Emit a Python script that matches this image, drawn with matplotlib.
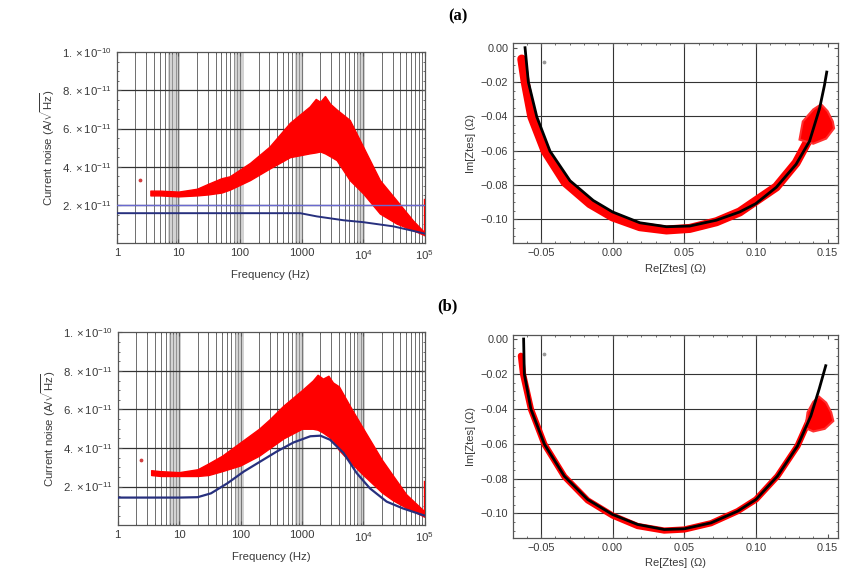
import numpy as np
import matplotlib
matplotlib.use("Agg")
import matplotlib.pyplot as plt
from matplotlib.ticker import MultipleLocator, NullFormatter, LogLocator

plt.rcParams['font.family'] = ['Liberation Sans', 'DejaVu Sans']
plt.rcParams['mathtext.fontset'] = 'custom'
plt.rcParams['mathtext.rm'] = 'Liberation Sans'
plt.rcParams['mathtext.it'] = 'Liberation Sans:italic'

# ---------------- data: noise spectra (units of 1e-11 A/sqrt(Hz)) ----------------
freq_env_a = [3.5, 5, 10, 20, 30, 50, 68, 145, 300, 645, 1350, 1700, 2000, 2400, 2900,
              3700, 6050, 10000, 18700, 34700, 64000, 100000]
noise_a_upper = [2.75, 2.75, 2.7, 2.85, 3.1, 3.4, 3.5, 4.2, 5.05, 6.3, 7.15, 7.55, 7.4,
                 7.7, 7.3, 7.0, 6.45, 5.05, 3.3, 2.25, 1.2, 0.55]
noise_a_lower = [2.5, 2.5, 2.45, 2.5, 2.55, 2.65, 2.8, 3.3, 3.9, 4.5, 4.7, 4.75, 4.8,
                 4.7, 4.55, 4.35, 3.3, 2.6, 1.55, 1.03, 0.68, 0.42]
freq_env_b = [3.5, 5, 10, 20, 30, 50, 100, 200, 300, 500, 1000, 1500, 1800, 2200, 2700,
              3200, 4000, 6000, 10000, 20000, 30000, 50000, 100000]
noise_b_upper = [2.85, 2.8, 2.75, 2.9, 3.2, 3.6, 4.3, 5.0, 5.5, 6.2, 7.0, 7.5, 7.8, 7.6,
                 7.75, 7.4, 7.2, 6.2, 5.0, 3.4, 2.6, 1.6, 0.7]
noise_b_lower = [2.6, 2.55, 2.55, 2.55, 2.6, 2.8, 3.1, 3.6, 4.0, 4.5, 5.0, 5.0, 4.95,
                 4.8, 4.6, 4.4, 3.9, 3.3, 2.6, 1.7, 1.3, 0.9, 0.43]
outlier_f = [2.4]
outlier_a = [3.3]
outlier_b = [3.4]
edge_f = [98000, 98000]
edge_noise = [0.45, 2.3]

model_a_f = [1, 200, 950, 1780, 4800, 10000, 31000, 95000, 100000]
model_a_v = [1.57, 1.57, 1.57, 1.40, 1.20, 1.10, 0.88, 0.52, 0.50]
flat_a_f = [1, 100000]
flat_a_v = [2.0, 2.0]

model_b_f = [1, 10, 20, 33, 61, 113, 210, 390, 730, 1370, 2000, 2870, 4780, 7800,
             12800, 24000, 44000, 94000, 100000]
model_b_v = [1.43, 1.43, 1.45, 1.65, 2.17, 2.78, 3.3, 3.82, 4.29, 4.61, 4.64, 4.43,
             3.74, 2.70, 1.91, 1.22, 0.87, 0.52, 0.5]

# ---------------- data: impedance (Ohm) ----------------
fit_a_re = [-0.0611, -0.0588, -0.0529, -0.0437, -0.0297, -0.0135, 0.0, 0.019, 0.0376,
            0.0538, 0.0724, 0.0886, 0.0998, 0.1142, 0.128, 0.1374, 0.1444, 0.1478, 0.1494]
fit_a_im = [0.000, -0.020, -0.0403, -0.0603, -0.0776, -0.0891, -0.0958, -0.1021, -0.1044,
            -0.104, -0.1006, -0.0958, -0.091, -0.0814, -0.068, -0.0545, -0.0354, -0.0219, -0.0142]
meas_a_re = [-0.0634, -0.061, -0.0564, -0.0471, -0.0332, -0.0158, 0.0, 0.019, 0.0376,
             0.0538, 0.0724, 0.0886, 0.1142, 0.128, 0.1374, 0.142]
meas_a_im = [-0.0066, -0.020, -0.0403, -0.0603, -0.0785, -0.091, -0.0987, -0.1044, -0.1063,
             -0.1054, -0.1015, -0.0958, -0.0812, -0.0672, -0.0526, -0.043]
blob_a_re = [0.1455, 0.1500, 0.1536, 0.1545, 0.1490, 0.1400, 0.1304, 0.1327, 0.1400]
blob_a_im = [-0.0330, -0.0370, -0.0430, -0.0470, -0.0530, -0.0560, -0.0536, -0.0430, -0.0360]

fit_b_re = [-0.0621, -0.0616, -0.057, -0.0476, -0.0337, -0.0174, 0.0, 0.0174, 0.036, 0.05,
            0.0686, 0.0872, 0.10, 0.115, 0.129, 0.1383, 0.1441, 0.1487]
fit_b_im = [0.0, -0.0201, -0.0402, -0.0603, -0.0786, -0.092, -0.1006, -0.1063, -0.1092,
            -0.1088, -0.1054, -0.0987, -0.092, -0.0786, -0.0613, -0.0441, -0.0287, -0.0153]
meas_b_re = [-0.064, -0.0625, -0.057, -0.0476, -0.0337, -0.0174, 0.0, 0.0174, 0.036, 0.05,
             0.0686, 0.0872, 0.10, 0.115, 0.129, 0.1383]
meas_b_im = [-0.0096, -0.0201, -0.0402, -0.0603, -0.0788, -0.0925, -0.1012, -0.1072, -0.1098,
             -0.1092, -0.1056, -0.0987, -0.092, -0.0786, -0.0613, -0.0441]
blob_b_re = [0.1440, 0.1490, 0.1525, 0.1540, 0.1480, 0.1400, 0.1345, 0.1360, 0.1400]
blob_b_im = [-0.0330, -0.0365, -0.0420, -0.0470, -0.0515, -0.0530, -0.0510, -0.0420, -0.0360]
stray_re = [-0.048]
stray_im = [-0.0085]

noise_ticks = [2e-11, 4e-11, 6e-11, 8e-11, 1e-10]
noise_ticklabels = [r"$2.\times10^{-11}$", r"$4.\times10^{-11}$", r"$6.\times10^{-11}$",
                    r"$8.\times10^{-11}$", r"$1.\times10^{-10}$"]
freq_ticks = [1, 10, 100, 1000, 1e4, 1e5]
freq_ticklabels = ["1", "10", "100", "1000", r"$10^4$", r"$10^5$"]
re_ticks = [-0.05, 0.0, 0.05, 0.10, 0.15]
re_ticklabels = ["\u22120.05", "0.00", "0.05", "0.10", "0.15"]
im_ticks = [0.0, -0.02, -0.04, -0.06, -0.08, -0.10]
im_ticklabels = ["0.00", "\u22120.02", "\u22120.04", "\u22120.06", "\u22120.08", "\u22120.10"]

RED = "#ff0000"
NAVY = "#27307e"
TXT = "#3a3a3a"
FRAME = "#555555"

fig = plt.figure(figsize=(8.41, 5.79), dpi=100)

def style_frame(ax, size):
    for s in ax.spines.values():
        s.set_color(FRAME)
        s.set_linewidth(0.9)
    ax.tick_params(which='both', direction='in', top=True, right=True, colors=FRAME,
                   labelcolor=TXT, labelsize=size)
    ax.tick_params(which='major', length=3)
    ax.tick_params(which='minor', length=1.6)

def noise_panel(rect, fenv, upper, lower, outlier, models):
    ax = fig.add_axes(rect)
    ax.set_xscale('log')
    ax.set_xlim(1, 1e5)
    ax.set_ylim(0, 1e-10)
    minor = [m * 10 ** d for d in range(0, 5) for m in range(2, 10)]
    for x in minor:
        ax.axvline(x, color="#6e6e6e", lw=0.7, zorder=0)
    for x in freq_ticks[1:-1]:
        ax.axvline(x, color="#333333", lw=0.8, zorder=0)
    for lo, hi in [(6.8, 10.7), (80, 115), (780, 1070), (7800, 10600)]:
        ax.axvspan(lo, hi, color="#b0b0b0", alpha=0.55, lw=0, zorder=0)
    for y in noise_ticks[:-1]:
        ax.axhline(y, color="#333333", lw=0.9, zorder=0)
    f = np.array(fenv)
    ax.fill_between(f, np.array(lower) * 1e-11, np.array(upper) * 1e-11,
                    color=RED, lw=1.0, edgecolor=RED, zorder=2)
    ax.scatter(outlier_f, np.array(outlier) * 1e-11, s=3, color="#d04040", zorder=3)
    ax.plot(edge_f, np.array(edge_noise) * 1e-11, color=RED, lw=1.0, zorder=3)
    for fx, vy, col, lw in models:
        ax.plot(fx, np.array(vy) * 1e-11, color=col, lw=lw, zorder=4)
    ax.set_yticks(noise_ticks)
    ax.set_yticklabels(noise_ticklabels)
    ax.yaxis.set_minor_locator(MultipleLocator(0.5e-11))
    ax.set_xticks(freq_ticks)
    ax.set_xticklabels(freq_ticklabels)
    ax.xaxis.set_minor_locator(LogLocator(base=10, subs=np.arange(2, 10)))
    ax.xaxis.set_minor_formatter(NullFormatter())
    style_frame(ax, 8.2)
    ax.set_xlabel("Frequency (Hz)", fontsize=8.2, color=TXT, labelpad=6)
    ax.set_ylabel(r"Current noise (A/$\sqrt{\mathrm{Hz}}$)", fontsize=8.2, color=TXT, labelpad=4)
    return ax

def imp_panel(rect, fre, fim, mre, mim, bre, bim, bandw):
    ax = fig.add_axes(rect)
    ax.set_xlim(-0.0695, 0.157)
    ax.set_ylim(-0.114, 0.0025)
    for x in re_ticks[:-1]:
        ax.axvline(x, color="#333333", lw=0.8, zorder=0)
    for y in im_ticks[1:]:
        ax.axhline(y, color="#333333", lw=0.8, zorder=0)
    ax.plot(mre, mim, color=RED, lw=bandw, solid_capstyle='round', zorder=2)
    ax.fill(bre, bim, color=RED, lw=1.5, edgecolor="#ff3030", zorder=2)
    ax.scatter(stray_re, stray_im, s=3, color="#999999", zorder=2)
    ax.plot(fre, fim, color="black", lw=2.0, zorder=3)
    ax.set_xticks(re_ticks)
    ax.set_xticklabels(re_ticklabels)
    ax.set_yticks(im_ticks)
    ax.set_yticklabels(im_ticklabels)
    ax.xaxis.set_minor_locator(MultipleLocator(0.01))
    ax.yaxis.set_minor_locator(MultipleLocator(0.005))
    style_frame(ax, 7.8)
    ax.set_xlabel("Re[Ztes] (\u03a9)", fontsize=8, color=TXT, labelpad=4)
    ax.set_ylabel("Im[Ztes] (\u03a9)", fontsize=8, color=TXT, labelpad=3)
    return ax

noise_panel([0.139, 0.580, 0.366, 0.330], freq_env_a, noise_a_upper, noise_a_lower, outlier_a,
            [(flat_a_f, flat_a_v, "#6a6ad0", 1.0), (model_a_f, model_a_v, NAVY, 1.4)])
noise_panel([0.140, 0.093, 0.365, 0.333], freq_env_b, noise_b_upper, noise_b_lower, outlier_b,
            [(model_b_f, model_b_v, NAVY, 1.6)])
imp_panel([0.610, 0.580, 0.386, 0.345], fit_a_re, fit_a_im, meas_a_re, meas_a_im,
          blob_a_re, blob_a_im, 6.5)
imp_panel([0.610, 0.071, 0.386, 0.351], fit_b_re, fit_b_im, meas_b_re, meas_b_im,
          blob_b_re, blob_b_im, 4.5)

fig.text(0.545, 0.972, "(a)", fontsize=12, fontweight='bold', family='Liberation Serif',
         ha='center', va='center')
fig.text(0.532, 0.470, "(b)", fontsize=12, fontweight='bold', family='Liberation Serif',
         ha='center', va='center')

fig.savefig("out.png", dpi=100)
